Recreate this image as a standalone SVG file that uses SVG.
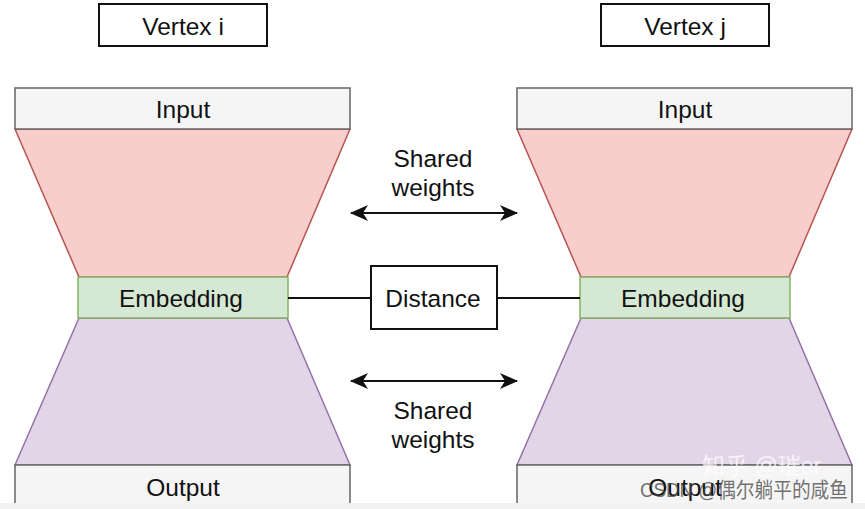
<svg xmlns="http://www.w3.org/2000/svg" width="865" height="509" viewBox="0 0 865 509">
<style>
text{font-family:"Liberation Sans",Arial,sans-serif;font-size:24.5px;fill:#111;text-anchor:middle;dominant-baseline:central}
.plain{fill:#fff;stroke:#111;stroke-width:2}
.gray{fill:#f5f5f5;stroke:#666;stroke-width:1.5}
.red{fill:#f8cecc;stroke:#b85450;stroke-width:1.5}
.green{fill:#d5e8d4;stroke:#82b366;stroke-width:1.5}
.purple{fill:#e1d5e7;stroke:#9673a6;stroke-width:1.5}
.conn{stroke:#111;stroke-width:2;fill:none}
.wm{font-family:"Liberation Sans","Noto Sans CJK SC",sans-serif;font-size:21px;text-anchor:start}
</style>
<defs>
<marker id="ah" viewBox="0 0 18 16" refX="17" refY="8" markerWidth="18" markerHeight="16" orient="auto-start-reverse" markerUnits="userSpaceOnUse">
<path d="M0,0 L18,8 L0,16 L5,8 Z" fill="#111"/>
</marker>
</defs>
<rect width="865" height="509" fill="#fff"/>
<g id="vertex-i"><rect class="plain" x="99" y="4" width="168" height="42"/><text x="183" y="26">Vertex i</text></g>
<g id="vertex-j"><rect class="plain" x="601" y="4" width="168" height="42"/><text x="685" y="26">Vertex j</text></g>
<g id="left-encoder"><path class="red" d="M15,129 L350,129 L287,277 L79,277 Z"/></g>
<g id="left-decoder"><path class="purple" d="M79,318 L287,318 L350,465 L15,465 Z"/></g>
<g id="left-input"><rect class="gray" x="15" y="88" width="335" height="41"/><text x="183" y="109">Input</text></g>
<g id="left-embedding"><rect class="green" x="78" y="277" width="210" height="41"/><text x="181" y="298">Embedding</text></g>
<g id="left-output"><rect class="gray" x="15" y="465" width="335" height="60"/><text x="183" y="487">Output</text></g>
<g id="right-encoder"><path class="red" d="M517,129 L852,129 L789,277 L581,277 Z"/></g>
<g id="right-decoder"><path class="purple" d="M581,318 L789,318 L852,465 L517,465 Z"/></g>
<g id="right-input"><rect class="gray" x="517" y="88" width="335" height="41"/><text x="685" y="109">Input</text></g>
<g id="right-embedding"><rect class="green" x="580" y="277" width="210" height="41"/><text x="683" y="298">Embedding</text></g>
<g id="right-output"><rect class="gray" x="517" y="465" width="335" height="60"/><text x="685" y="487">Output</text></g>
<g id="distance"><rect class="plain" x="371" y="266" width="126" height="63"/><text x="433" y="298">Distance</text></g>
<g id="connectors">
<line class="conn" x1="351" y1="213" x2="517" y2="213" marker-start="url(#ah)" marker-end="url(#ah)"/>
<line class="conn" x1="351" y1="381" x2="517" y2="381" marker-start="url(#ah)" marker-end="url(#ah)"/>
<line class="conn" x1="288" y1="298" x2="371" y2="298"/>
<line class="conn" x1="497" y1="298" x2="580" y2="298"/>
<text x="433" y="158">Shared</text>
<text x="433" y="187">weights</text>
<text x="433" y="410">Shared</text>
<text x="433" y="439">weights</text>
</g>
<rect x="0" y="503" width="865" height="6" fill="#f2f2f2"/>
<text class="wm" x="702" y="466" style="fill:#ffffff;fill-opacity:0.75;font-size:23px">知乎 @璀er</text>
<text class="wm" x="640" y="489" textLength="208" lengthAdjust="spacingAndGlyphs" style="fill:#444;fill-opacity:0.75">CSDN @偶尔躺平的咸鱼</text>
</svg>
